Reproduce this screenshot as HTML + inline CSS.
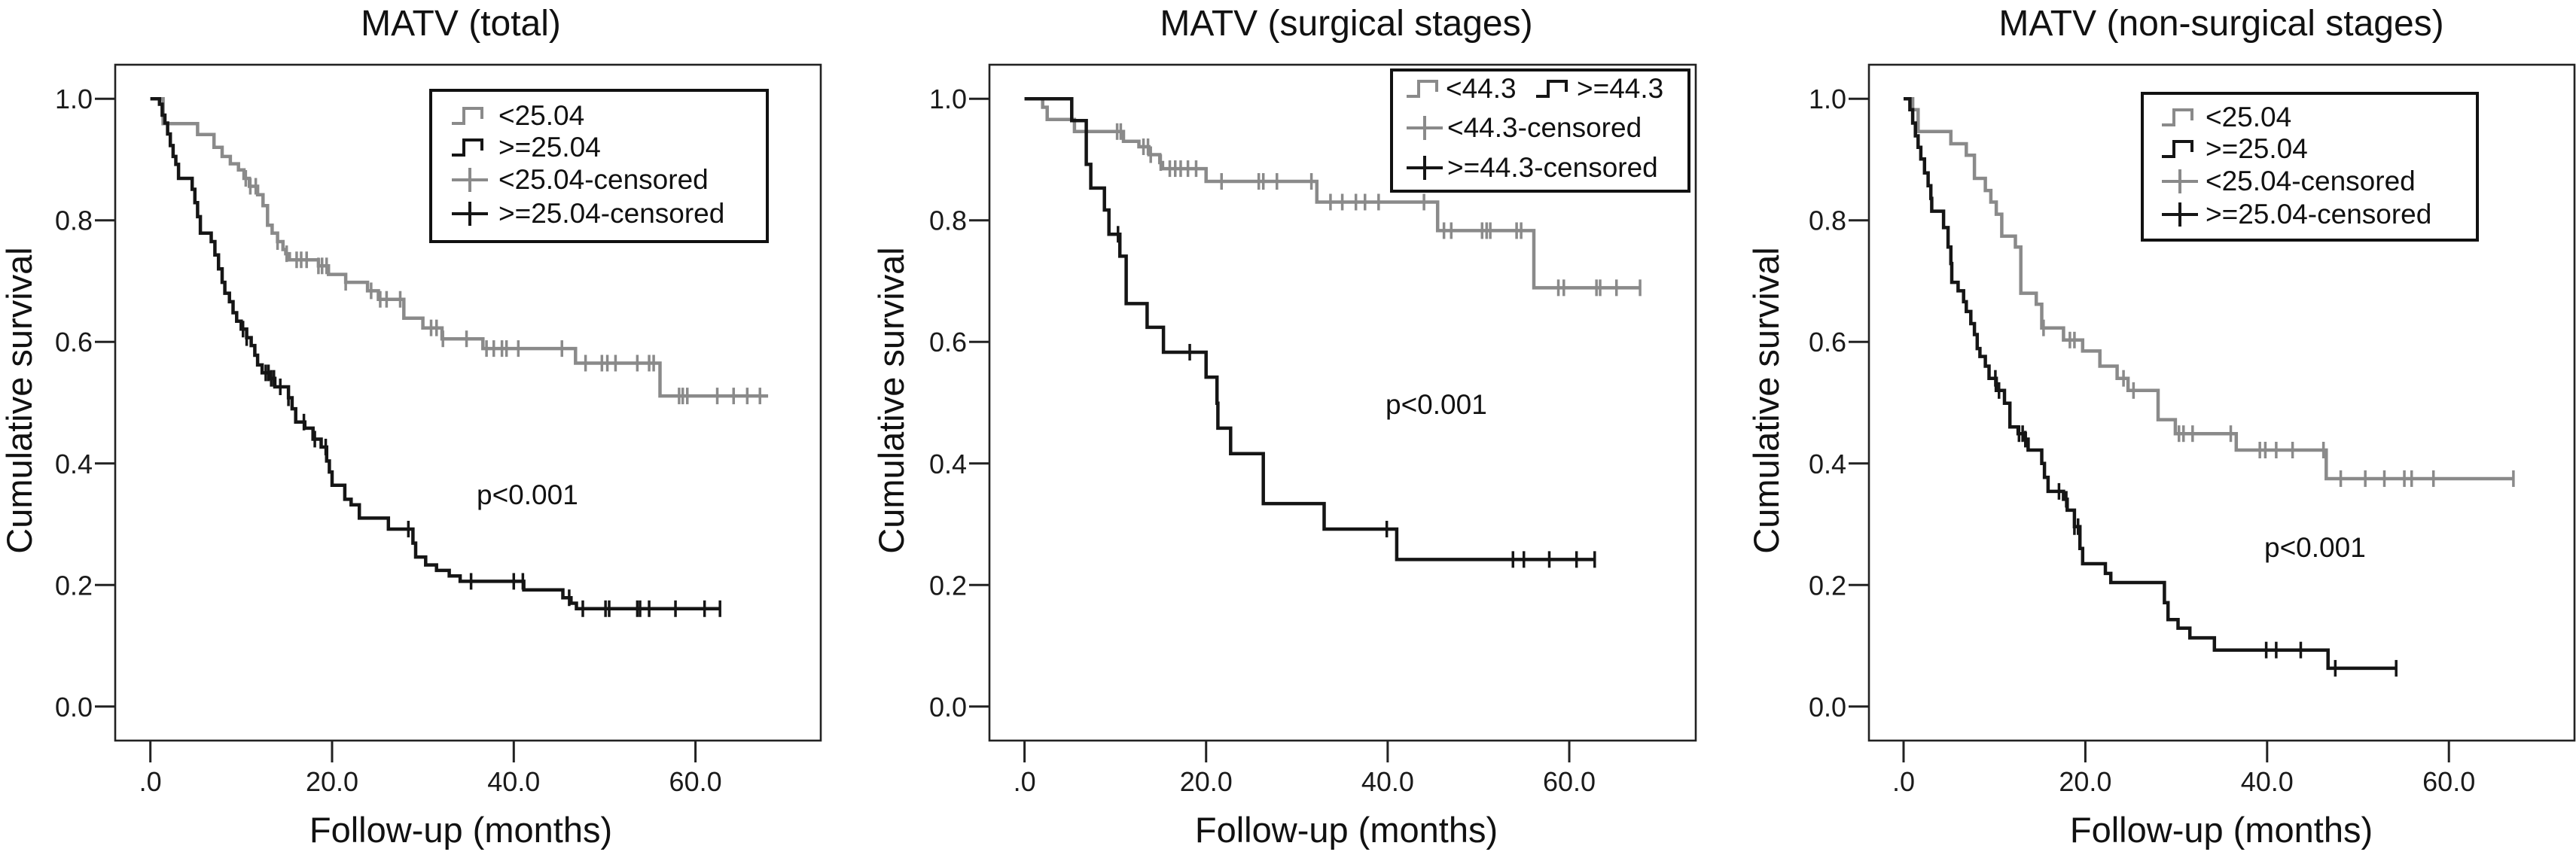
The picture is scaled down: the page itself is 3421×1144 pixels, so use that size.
<!DOCTYPE html>
<html><head><meta charset="utf-8"><style>
html,body{margin:0;padding:0;background:#fff;}
svg{display:block;font-family:"Liberation Sans",Arial,sans-serif;}
</style></head><body>
<svg id="fig" width="3421" height="1144" viewBox="0 0 3421 1144" xmlns="http://www.w3.org/2000/svg"></svg>
<script>
// ---- Panel 1: MATV (total) ----
const p1LowT = [1.4,5.2,7,7.9,8.8,9.7,10.3,10.9,11.8,12.4,12.9,13.4,14,14.6,14.9,15.3,18.5,19.6,21.5,23.9,25.1,27.9,30,32.1,36.6,46.8,56.1];
const p1LowS = [0.959,0.941,0.92,0.905,0.893,0.883,0.869,0.856,0.842,0.824,0.792,0.779,0.765,0.752,0.745,0.735,0.725,0.711,0.698,0.684,0.67,0.639,0.623,0.605,0.589,0.565,0.511];
const p1LowEnd = 68;
const p1LowC = [10.5,11,11.6,14,15,16.1,16.6,17.2,18.5,18.9,19.4,21.5,24.3,25.3,26,27.5,30.9,31.5,32.2,34.8,37,37.8,38.7,39.2,40.5,45.3,47.9,49.7,50.3,51.2,53.6,54.9,55.4,58.2,58.6,59.1,62.4,64.2,65.7,67.1];
const p1HighT = [1.0,1.3,1.6,1.9,2.2,2.5,2.8,3.1,4.6,4.9,5.2,5.5,6.7,7.1,7.5,7.9,8.2,8.7,9.1,9.5,10,10.6,11.1,11.5,11.8,12.3,13.1,13.7,15.2,15.6,16,17,17.9,18.8,19.4,19.7,20,21.4,22.1,23,26.2,28.9,29.2,30.3,31.5,32.9,34.1,41.1,45.4,46.3,46.9];
const p1HighS = [0.991,0.973,0.96,0.942,0.923,0.905,0.892,0.869,0.851,0.829,0.806,0.779,0.765,0.743,0.72,0.698,0.68,0.666,0.648,0.634,0.621,0.607,0.594,0.578,0.562,0.549,0.54,0.526,0.508,0.49,0.468,0.458,0.44,0.427,0.404,0.386,0.364,0.341,0.332,0.31,0.292,0.269,0.246,0.233,0.224,0.215,0.206,0.192,0.179,0.17,0.161];
const p1HighEnd = 62.7;
const p1HighC = [10.2,10.6,12.7,13,13.3,13.6,14.3,15.2,16.9,18.1,19.3,28.4,35.3,40,41,46.1,47.6,50.1,50.5,53.6,53.9,54.9,57.8,61,62.7];
// ---- Panel 2: MATV (surgical stages) ----
const p2LowT = [2.0,2.5,5.5,10.9,12.6,13.7,14.9,15.2,20,32.2,45.5,56.1];
const p2LowS = [0.986,0.966,0.946,0.93,0.921,0.908,0.895,0.885,0.864,0.83,0.783,0.689];
const p2LowEnd = 67.9;
const p2LowC = [10.2,10.6,13.1,13.6,13.9,15,16,16.6,17.2,18,18.9,21.7,25.8,26.3,27.8,31.6,33.7,35,36.5,37.5,39,44,46.2,47,50.4,50.9,51.3,54.2,54.7,58.8,59.4,63,63.4,65.2,67.8];
const p2HighT = [5.2,6.8,7.3,8.8,9.3,10.5,11.2,13.5,15.3,20,21.2,21.3,22.7,26.3,33,41];
const p2HighS = [0.964,0.892,0.853,0.817,0.777,0.741,0.663,0.624,0.583,0.542,0.499,0.458,0.416,0.334,0.292,0.242];
const p2HighEnd = 62.9;
const p2HighC = [10.3,18.2,39.9,53.8,55,57.8,60.8,62.8];
// ---- Panel 3: MATV (non-surgical stages) ----
const p3LowT = [1.0,1.6,5.2,6.9,7.8,9,9.6,10.2,10.8,12.3,12.9,14.6,15.2,17.6,19.7,21.6,23.5,24.7,28,29.9,36.6,46.5];
const p3LowS = [0.982,0.946,0.926,0.907,0.869,0.849,0.83,0.81,0.774,0.756,0.68,0.662,0.623,0.603,0.585,0.56,0.54,0.52,0.472,0.449,0.422,0.375];
const p3LowEnd = 67.2;
const p3LowC = [15.4,18.3,18.8,24.2,25.3,30.3,30.8,31.8,36,39.2,39.8,41,42.8,46.2,48.1,50.8,52.9,55.1,55.9,58.3,67.1];
const p3HighT = [0.7,1,1.3,1.6,1.9,2.3,2.7,3,3.1,4.4,4.9,5.2,5.3,6,6.6,6.9,7.4,7.8,8.1,8.4,9,9.4,10.2,11.1,11.7,12.6,13.4,13.7,15.2,15.5,15.9,17.6,18,18.8,19.4,19.7,22.2,22.8,28.7,29.1,30.2,31.5,34.2,46.7];
const p3HighS = [0.982,0.96,0.939,0.92,0.901,0.878,0.857,0.836,0.815,0.788,0.756,0.729,0.698,0.684,0.666,0.65,0.63,0.612,0.589,0.576,0.56,0.54,0.52,0.499,0.46,0.449,0.44,0.422,0.4,0.377,0.354,0.341,0.323,0.296,0.26,0.235,0.219,0.204,0.171,0.143,0.129,0.113,0.093,0.063];
const p3HighEnd = 54.2;
const p3HighC = [10.1,10.5,12.7,13.1,13.4,17.1,17.9,18.8,19.2,39.9,41,43.7,47.5,54.2];
// ---- shared axis ticks ----
const yTicks = [0,0.2,0.4,0.6,0.8,1.0];
const yTickLabels = ["0.0","0.2","0.4","0.6","0.8","1.0"];
const xTicks = [0,20,40,60];
const xTickLabels = [".0","20.0","40.0","60.0"];

const NS = "http://www.w3.org/2000/svg";
const svg = document.getElementById('fig');
const GRAY = "#8a8a8a", BLACK = "#151515";
function mk(tag, attrs, parent) {
  const e = document.createElementNS(NS, tag);
  for (const k in attrs) e.setAttribute(k, attrs[k]);
  (parent || svg).appendChild(e);
  return e;
}
function txt(str, attrs, parent) { const t = mk('text', attrs, parent); t.textContent = str; return t; }

function stepPath(T, S, end, X, Y) {
  let d = "M" + X(0) + "," + Y(1);
  for (let i = 0; i < T.length; i++) {
    d += " H" + X(T[i]).toFixed(1) + " V" + Y(S[i]).toFixed(1);
  }
  d += " H" + X(end).toFixed(1);
  return d;
}
function survAt(T, S, t) {
  let s = 1;
  for (let i = 0; i < T.length; i++) { if (T[i] <= t) s = S[i]; }
  return s;
}

function panel(cfg) {
  const g = mk('g', {});
  
  
  const X = v => cfg.x0 + v * cfg.xs;
  const Y = v => cfg.yBot + (cfg.yTop - cfg.yBot) * v;
  const frame = mk('rect', {x: cfg.fl, y: 86, width: cfg.fr - cfg.fl, height: 984 - 86, fill: 'none', stroke: '#222', 'stroke-width': 2.6}, g);
  
  
  yTicks.forEach((v, i) => {
    const l = mk('line', {x1: cfg.fl - 27, x2: cfg.fl, y1: Y(v), y2: Y(v), stroke: '#222', 'stroke-width': 3}, g);
    
    
    const t = txt(yTickLabels[i], {x: cfg.fl - 30, y: Y(v) + 13, 'font-size': 36, 'text-anchor': 'end', fill: '#1a1a1a'}, g);
    
    
  });
  xTicks.forEach((v, i) => {
    const l = mk('line', {x1: X(v), x2: X(v), y1: 984, y2: 1013, stroke: '#222', 'stroke-width': 3}, g);
    
    
    const t = txt(xTickLabels[i], {x: X(v), y: 1051, 'font-size': 36, 'text-anchor': 'middle', fill: '#1a1a1a'}, g);
    
    
  });
  const ti = txt(cfg.title, {x: cfg.cx, y: 47, 'font-size': 48, 'text-anchor': 'middle', fill: '#111'}, g);
  
  
  const xt = txt('Follow-up (months)', {x: cfg.cx, y: 1119, 'font-size': 47, 'text-anchor': 'middle', fill: '#111'}, g);
  
  
  const yt = txt('Cumulative survival', {x: 0, y: 0, 'font-size': 47, 'text-anchor': 'middle', fill: '#111', transform: 'translate(' + (cfg.yTitleX) + ',532) rotate(-90)'}, g);
  
  
  cfg.series.forEach(s => {
    const p = mk('path', {d: stepPath(s.T, s.S, s.end, X, Y), fill: 'none', stroke: s.color, 'stroke-width': 4.5}, g);
    
    
    s.C.forEach(c => {
      const yy = Y(survAt(s.T, s.S, c));
      const m = mk('line', {x1: X(c), x2: X(c), y1: yy - 11, y2: yy + 11, stroke: s.color, 'stroke-width': 3.5}, g);
      
      
    });
  });
  const pv = txt('p<0.001', {x: cfg.px, y: cfg.py, 'font-size': 37, fill: '#111'}, g);
  
  
  const L = cfg.legend;
  const lg = mk('g', {}, g);
  
  
  mk('rect', {x: L.x, y: L.y, width: L.w, height: L.h, fill: '#fff', stroke: '#111', 'stroke-width': 4}, lg);
  L.items.forEach(it => {
    const e = mk('g', {}, lg);
    
    
    const sx = it.sx, sy = it.y - 12, w = 48;
    if (it.kind === 'step') {
      mk('path', {d: 'M' + sx + ',' + (sy + 10) + ' H' + (sx + 16) + ' V' + (sy - 10) + ' H' + (sx + w - 8) + ' V' + (sy + 4), fill: 'none', stroke: it.color, 'stroke-width': 4}, e);
    } else {
      mk('path', {d: 'M' + sx + ',' + sy + ' H' + (sx + w) + ' M' + (sx + w / 2) + ',' + (sy - 16) + ' V' + (sy + 16), fill: 'none', stroke: it.color, 'stroke-width': 4}, e);
    }
    txt(it.label, {x: it.tx, y: it.y, 'font-size': 37, fill: '#111'}, e);
  });
}

panel({name: 'panel-total', title: 'MATV (total)', fl: 153, fr: 1090, x0: 199.7, xs: 12.065, yTop: 131.2, yBot: 938.8, cx: 612, yTitleX: 42, px: 633, py: 670,
  series: [{name: 'low-group', T: p1LowT, S: p1LowS, end: p1LowEnd, C: p1LowC, color: GRAY},
           {name: 'high-group', T: p1HighT, S: p1HighS, end: p1HighEnd, C: p1HighC, color: BLACK}],
  legend: {x: 572, y: 120, w: 447, h: 201, items: [
    {kind: 'step', color: GRAY, label: '<25.04', sx: 600, tx: 662, y: 166},
    {kind: 'step', color: BLACK, label: '>=25.04', sx: 600, tx: 662, y: 208},
    {kind: 'cross', color: GRAY, label: '<25.04-censored', sx: 600, tx: 662, y: 251},
    {kind: 'cross', color: BLACK, label: '>=25.04-censored', sx: 600, tx: 662, y: 296}]}});

panel({name: 'panel-surgical', title: 'MATV (surgical stages)', fl: 1314, fr: 2252, x0: 1360.6, xs: 12.057, yTop: 131.2, yBot: 938.8, cx: 1788, yTitleX: 1200, px: 1840, py: 550,
  series: [{name: 'low-group', T: p2LowT, S: p2LowS, end: p2LowEnd, C: p2LowC, color: GRAY},
           {name: 'high-group', T: p2HighT, S: p2HighS, end: p2HighEnd, C: p2HighC, color: BLACK}],
  legend: {x: 1848, y: 93, w: 395, h: 161, items: [
    {kind: 'step', color: GRAY, label: '<44.3', sx: 1868, tx: 1920, y: 130},
    {kind: 'step', color: BLACK, label: '>=44.3', sx: 2040, tx: 2094, y: 130},
    {kind: 'cross', color: GRAY, label: '<44.3-censored', sx: 1868, tx: 1922, y: 182},
    {kind: 'cross', color: BLACK, label: '>=44.3-censored', sx: 1868, tx: 1922, y: 235}]}});

panel({name: 'panel-non-surgical', title: 'MATV (non-surgical stages)', fl: 2482, fr: 3419, x0: 2528, xs: 12.07, yTop: 131.2, yBot: 938.8, cx: 2950, yTitleX: 2362, px: 3007, py: 740,
  series: [{name: 'low-group', T: p3LowT, S: p3LowS, end: p3LowEnd, C: p3LowC, color: GRAY},
           {name: 'high-group', T: p3HighT, S: p3HighS, end: p3HighEnd, C: p3HighC, color: BLACK}],
  legend: {x: 2845, y: 124, w: 445, h: 195, items: [
    {kind: 'step', color: GRAY, label: '<25.04', sx: 2871, tx: 2929, y: 168},
    {kind: 'step', color: BLACK, label: '>=25.04', sx: 2871, tx: 2929, y: 210},
    {kind: 'cross', color: GRAY, label: '<25.04-censored', sx: 2871, tx: 2929, y: 253},
    {kind: 'cross', color: BLACK, label: '>=25.04-censored', sx: 2871, tx: 2929, y: 297}]}});
</script>
</body></html>
